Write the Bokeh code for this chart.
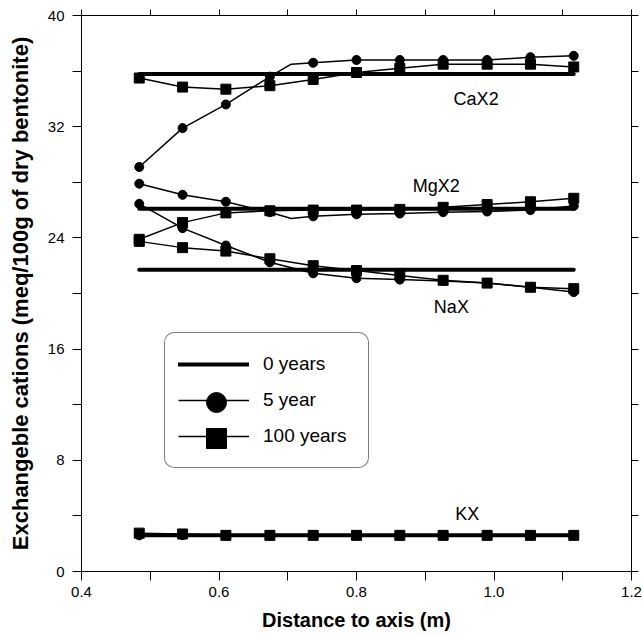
from bokeh.plotting import figure
from bokeh.models import (FixedTicker, LinearAxis, Legend, LegendItem, Range1d,
                          ColumnDataSource, CustomJSTickFormatter)
from bokeh.embed import file_html
from bokeh.resources import INLINE
from bokeh.core.properties import value

# ---------------- data ----------------
distance = [0.484, 0.547, 0.610, 0.674, 0.737, 0.800, 0.863, 0.926, 0.990, 1.053, 1.116]

# 0 years (initial state)
ca_0yr = [35.8, 35.8, 35.8, 35.8, 35.8, 35.8, 35.8, 35.8, 35.8, 35.8, 35.8]
mg_0yr = [26.1, 26.1, 26.1, 26.1, 26.1, 26.1, 26.1, 26.1, 26.1, 26.1, 26.1]
na_0yr = [21.7, 21.7, 21.7, 21.7, 21.7, 21.7, 21.7, 21.7, 21.7, 21.7, 21.7]
k_0yr = [2.6, 2.6, 2.6, 2.6, 2.6, 2.6, 2.6, 2.6, 2.6, 2.6, 2.6]

# 5 years (markers)
ca_5yr = [29.1, 31.9, 33.6, 35.6, 36.6, 36.8, 36.8, 36.8, 36.8, 37.0, 37.1]
mg_5yr = [27.9, 27.1, 26.6, 25.85, 25.55, 25.7, 25.75, 25.85, 25.9, 26.0, 26.3]
na_5yr = [26.45, 24.7, 23.45, 22.25, 21.45, 21.1, 21.0, 20.9, 20.75, 20.45, 20.1]
k_5yr = [2.6, 2.62, 2.6, 2.6, 2.6, 2.6, 2.6, 2.6, 2.6, 2.6, 2.6]

# 5 years (computed curves, with the extra node visible between markers)
curve5_distance = [0.484, 0.547, 0.610, 0.674, 0.705, 0.737, 0.800, 0.863, 0.926, 0.990, 1.053, 1.116]
ca_5yr_curve = [29.1, 31.9, 33.6, 35.6, 36.5, 36.6, 36.8, 36.8, 36.8, 36.8, 37.0, 37.1]
mg_5yr_curve = [27.9, 27.1, 26.6, 25.85, 25.4, 25.55, 25.7, 25.75, 25.85, 25.9, 26.0, 26.3]

# 100 years
ca_100yr = [35.5, 34.85, 34.7, 34.95, 35.4, 35.9, 36.2, 36.5, 36.5, 36.5, 36.3]
mg_100yr = [23.9, 25.1, 25.8, 25.95, 26.0, 26.0, 26.05, 26.2, 26.4, 26.6, 26.85]
na_100yr = [23.75, 23.3, 23.05, 22.5, 22.0, 21.65, 21.3, 20.95, 20.75, 20.45, 20.35]
k_100yr = [2.76, 2.7, 2.6, 2.6, 2.6, 2.6, 2.6, 2.6, 2.6, 2.6, 2.6]

series_names = ["CaX2", "MgX2", "NaX", "KX"]
name_x = [0.974, 0.916, 0.938, 0.961]
name_y = [34.0, 27.7, 19.0, 4.15]

x_ticks = [0.4, 0.6, 0.8, 1.0, 1.2]
x_minor = [0.5, 0.7, 0.9, 1.1]
y_ticks = [0, 8, 16, 24, 32, 40]
y_minor = [4, 12, 20, 28, 36]

legend_labels = ["0 years", "5 year", "100 years"]

FONT = "Liberation Sans"

# ---------------- figure ----------------
p = figure(width=642, height=636, x_range=Range1d(0.4, 1.2), y_range=Range1d(0, 40),
           output_backend="svg", toolbar_location=None,
           x_axis_location=None, y_axis_location=None,
           min_border_left=81, min_border_right=11, min_border_top=15, min_border_bottom=65)
p.outline_line_color = None
p.grid.grid_line_color = None
p.background_fill_color = "white"
p.border_fill_color = "white"

X_BOUNDS = (0.387, 1.216)
Y_BOUNDS = (-0.6, 40.6)


def style_axis(ax, tick_out, minor_out):
    ax.axis_line_color = "black"
    ax.axis_line_width = 1
    ax.major_tick_line_color = "black"
    ax.minor_tick_line_color = "black"
    ax.major_tick_in = 0
    ax.minor_tick_in = 0
    ax.major_tick_out = tick_out
    ax.minor_tick_out = minor_out
    ax.major_label_text_font = FONT
    ax.major_label_text_font_size = "15px"
    ax.major_label_text_color = "black"
    ax.axis_label_text_font = FONT
    ax.axis_label_text_font_style = "bold"
    ax.axis_label_text_color = "black"


xb = LinearAxis(ticker=FixedTicker(ticks=x_ticks, minor_ticks=x_minor),
                axis_label="Distance to axis (m)",
                formatter=CustomJSTickFormatter(code="return tick.toFixed(1);"))
style_axis(xb, 9, 9)
xb.bounds = X_BOUNDS
xb.major_label_standoff = 6
xb.axis_label_standoff = 9
xb.axis_label_text_font_size = "20px"
p.add_layout(xb, "below")

yl = LinearAxis(ticker=FixedTicker(ticks=y_ticks, minor_ticks=y_minor),
                axis_label="Exchangeble cations (meq/100g of dry bentonite)")
style_axis(yl, 9, 9)
yl.bounds = Y_BOUNDS
yl.major_label_standoff = 8
yl.axis_label_standoff = 12
yl.axis_label_text_font_size = "22px"
p.add_layout(yl, "left")

# top and right: tick marks only (no labels)
xt = LinearAxis(ticker=FixedTicker(ticks=[], minor_ticks=x_ticks + x_minor))
style_axis(xt, 6, 6)
xt.bounds = X_BOUNDS
p.add_layout(xt, "above")

yr = LinearAxis(ticker=FixedTicker(ticks=[], minor_ticks=y_ticks + y_minor))
style_axis(yr, 7, 7)
yr.bounds = Y_BOUNDS
p.add_layout(yr, "right")

# ---------------- glyphs ----------------
thick = dict(line_color="black", line_width=4, line_cap="round")
thin = dict(line_color="black", line_width=1.5)

zero_renderers = []
for vals in (ca_0yr, mg_0yr, na_0yr, k_0yr):
    zero_renderers.append(p.line(distance, vals, **thick))

r5_lines = []
r5_lines.append(p.line(curve5_distance, ca_5yr_curve, **thin))
r5_lines.append(p.line(curve5_distance, mg_5yr_curve, **thin))
r5_lines.append(p.line(distance, na_5yr, **thin))
r5_lines.append(p.line(distance, k_5yr, **thin))
r5_pts = []
for vals in (ca_5yr, mg_5yr, na_5yr, k_5yr):
    r5_pts.append(p.scatter(distance, vals, marker="circle", size=9,
                            fill_color="black", line_color="black"))

r100_lines = []
r100_pts = []
for vals in (ca_100yr, mg_100yr, na_100yr, k_100yr):
    r100_lines.append(p.line(distance, vals, **thin))
    r100_pts.append(p.scatter(distance, vals, marker="square", size=10,
                              fill_color="black", line_color="black"))

names_src = ColumnDataSource(dict(x=name_x, y=name_y, t=series_names))
p.text(x="x", y="y", text="t", source=names_src, text_font=value(FONT),
       text_font_size="18px", text_align="center", text_baseline="middle",
       text_color="black")

# ---------------- legend ----------------
legend = Legend(items=[
    LegendItem(label=legend_labels[0], renderers=[zero_renderers[0]]),
    LegendItem(label=legend_labels[1], renderers=[r5_lines[0]]),
    LegendItem(label=legend_labels[2], renderers=[r100_lines[0]]),
])
legend.location = (83, 103)
legend.margin = 0
legend.padding = 13
legend.glyph_width = 71
legend.glyph_height = 36
legend.spacing = 0
legend.label_standoff = 14
legend.label_width = 92
legend.label_text_font = FONT
legend.label_text_font_size = "19px"
legend.label_text_color = "black"
legend.border_line_color = "black"
legend.border_line_width = 1
legend.background_fill_color = "white"
legend.background_fill_alpha = 1
if "border_radius" in Legend.properties():
    legend.border_radius = 10
p.add_layout(legend, "center")

# large legend markers, each in its own borderless legend on top of the box
for rend, loc in ((r5_pts[0], (110, 144)), (r100_pts[0], (110, 108))):
    mk = Legend(items=[LegendItem(label=value(""), renderers=[rend])])
    mk.location = loc
    mk.margin = 0
    mk.padding = 0
    mk.glyph_width = 50
    mk.glyph_height = 50
    mk.spacing = 0
    mk.label_standoff = 0
    mk.label_width = 0
    mk.label_height = 0
    mk.border_line_color = None
    mk.background_fill_alpha = 0
    p.add_layout(mk, "center")

open("out.html", "w").write(file_html(p, INLINE))
